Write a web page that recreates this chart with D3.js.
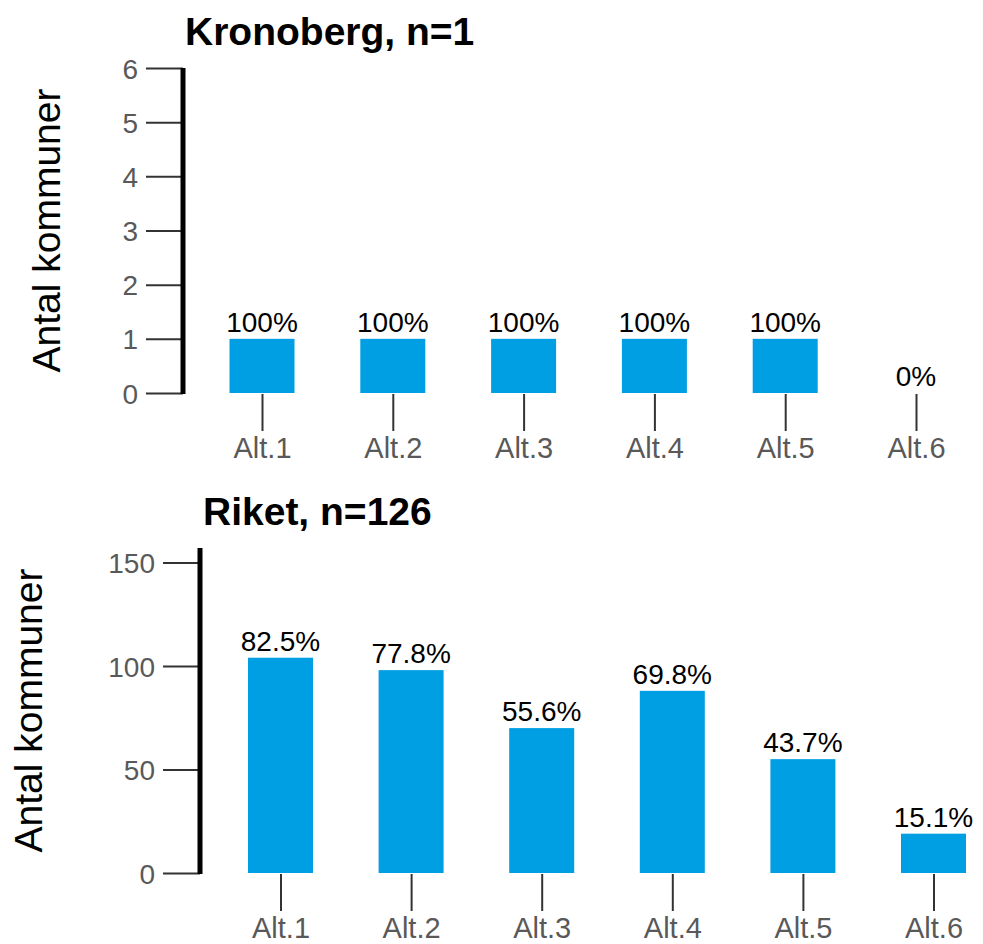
<!DOCTYPE html>
<html><head><meta charset="utf-8">
<script src="https://cdn.jsdelivr.net/npm/d3@7"></script>
<style>body{margin:0;background:#fff}svg{display:block}</style>
</head><body>
<svg id="c" width="983" height="944"></svg>
<script>
const categories = ["Alt.1","Alt.2","Alt.3","Alt.4","Alt.5","Alt.6"];
const kronobergValues = [1,1,1,1,1,0];
const kronobergLabels = ["100%","100%","100%","100%","100%","0%"];
const riketValues = [104,98,70,88,55,19];
const riketLabels = ["82.5%","77.8%","55.6%","69.8%","43.7%","15.1%"];
const kronobergTicks = [0,1,2,3,4,5,6];
const riketTicks = [0,50,100,150];

const svg = d3.select("#c");
const font = "Liberation Sans, Arial, sans-serif";
const barColor = "#009FE3";

function panel(o){
  const g = svg.append("g");
  const y = d3.scaleLinear().domain(o.domain).range([o.y0, o.y1]);
  const x = d3.scalePoint().domain(categories).range([o.xFirst, o.xFirst + 5*o.step]);
  // title
  g.append("text").attr("x", o.titleX).attr("y", o.titleY)
    .attr("font-family", font).attr("font-weight","bold").attr("font-size", 39)
    .attr("fill","#000").text(o.title);
  // y axis title
  g.append("text").attr("transform", `translate(${o.ytX},${(o.y0+o.y1)/2}) rotate(-90)`)
    .attr("text-anchor","middle").attr("font-family", font).attr("font-size", 39)
    .attr("fill","#000").text("Antal kommuner");
  // y axis
  const ya = g.append("g").attr("transform", `translate(${o.axisX},0)`)
    .call(d3.axisLeft(y).tickValues(o.ticks).tickFormat(d3.format("d"))
      .tickSize(37).tickPadding(8).tickSizeOuter(0));
  ya.select(".domain").remove();
  ya.selectAll(".tick line").attr("stroke","#333").attr("stroke-width",2);
  ya.selectAll(".tick text").attr("font-family", font).attr("font-size", 28)
    .attr("fill","#595959").attr("dy","0.36em");
  g.append("line").attr("x1", o.axisX).attr("x2", o.axisX)
    .attr("y1", o.y0+1).attr("y2", o.y1).attr("stroke","#000").attr("stroke-width",5);
  // bars
  const bw = 65;
  g.selectAll("rect").data(o.values).join("rect")
    .attr("x",(d,i)=>x(categories[i])-bw/2).attr("width",bw)
    .attr("y",d=>y(d)).attr("height",d=>y(0)-y(d))
    .attr("fill",barColor);
  // value labels
  g.selectAll("text.val").data(o.values).join("text").attr("class","val")
    .attr("x",(d,i)=>x(categories[i])).attr("y",d=>y(d)-7)
    .attr("text-anchor","middle").attr("font-family", font).attr("font-size", 28)
    .attr("fill","#000").text((d,i)=>o.labels[i]);
  // x axis
  const xa = g.append("g").attr("transform", `translate(0,${o.y0+1})`)
    .call(d3.axisBottom(x).tickSize(37).tickPadding(6).tickSizeOuter(0));
  xa.select(".domain").remove();
  xa.selectAll(".tick line").attr("stroke","#333").attr("stroke-width",2);
  xa.selectAll(".tick text").attr("font-family", font).attr("font-size", 29)
    .attr("fill","#595959").attr("dy","0.71em");
}

panel({title:"Kronoberg, n=1", titleX:185, titleY:45, domain:[0,6], y0:393, y1:68,
  ticks:kronobergTicks, axisX:183, ytX:60, xFirst:262, step:130.8,
  values:kronobergValues, labels:kronobergLabels});
panel({title:"Riket, n=126", titleX:203, titleY:525, domain:[0,157], y0:873, y1:548,
  ticks:riketTicks, axisX:200, ytX:42, xFirst:280.5, step:130.6,
  values:riketValues, labels:riketLabels});
</script>
</body></html>
